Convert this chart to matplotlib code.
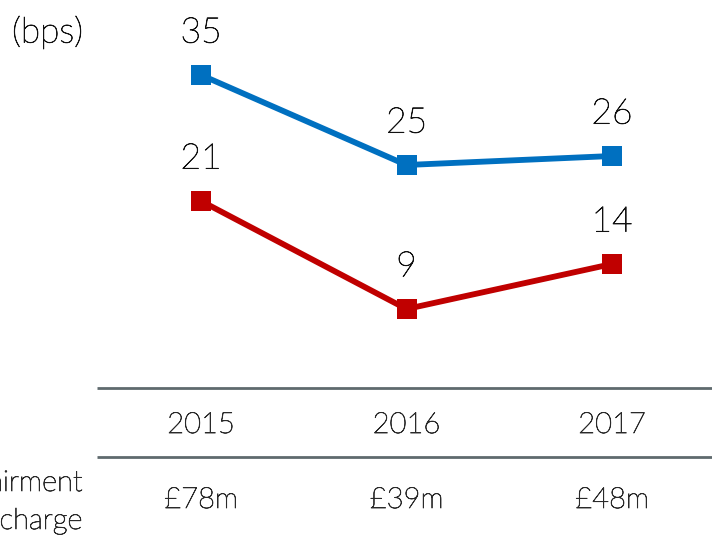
import matplotlib
matplotlib.use("Agg")
import matplotlib.pyplot as plt
import matplotlib.patheffects as pe

years = ["2015", "2016", "2017"]
blue_vals = [35, 25, 26]
red_vals = [21, 9, 14]
charges = ["£78m", "£39m", "£48m"]
unit_label = "(bps)"
row_label = ["Impairment", "charge"]

BLUE = "#0070c0"
RED = "#c00000"
GREY = "#5f6a6e"
TXT = "#111111"
TXT2 = "#2a2a2a"

plt.rcParams['font.family'] = ['Lato', 'DejaVu Sans']

W, H = 712, 541
fig = plt.figure(figsize=(W / 100, H / 100), dpi=100)
ax = fig.add_axes([0, 0, 1, 1])
ax.set_axis_off()

# pixel mapping: x index i -> 201 + 205.5*i ; value v -> 390 - 9*v (from top)
sx, x0 = 205.5, 201
sy, y0 = 9.0, 390
ax.set_xlim(-x0 / sx, (W - x0) / sx)
ax.set_ylim((y0 - H) / sy, y0 / sy)

xs = list(range(len(years)))

def py(p):  # pixel-from-top to data y
    return (y0 - p) / sy

def px(p):
    return (p - x0) / sx

FW = 'light'
def fx(c):
    return [pe.withStroke(linewidth=0.55, foreground=c)]

for vals, col in ((blue_vals, BLUE), (red_vals, RED)):
    ax.plot(xs, vals, color=col, lw=4.2, marker='s', ms=15, mew=0, mfc=col, solid_joinstyle='miter')
    for x, v in zip(xs, vals):
        ax.annotate(str(v), (x, v), xytext=(0, 30.5), textcoords='offset points',
                    ha='center', va='center', fontsize=25.5, color=TXT, fontweight=FW,
                    path_effects=fx(TXT))

ax.text(px(12), py(32), unit_label, ha='left', va='center', fontsize=25.5, color=TXT, fontweight=FW,
        path_effects=fx(TXT))

for yp in (388, 457):
    ax.plot([px(97), px(712)], [py(yp), py(yp)], color=GREY, lw=2.0, solid_capstyle='butt')

for x, yr, ch in zip(xs, years, charges):
    ax.text(x, py(425), yr, ha='center', va='center', fontsize=21, color=TXT2, fontweight=FW,
            path_effects=fx(TXT2))
    ax.text(x, py(500), ch, ha='center', va='center', fontsize=21, color=TXT2, fontweight=FW,
            path_effects=fx(TXT2))

ax.text(px(82), py(483), row_label[0], ha='right', va='center', fontsize=21, color=TXT2, fontweight=FW,
        path_effects=fx(TXT2))
ax.text(px(82), py(521), row_label[1], ha='right', va='center', fontsize=21, color=TXT2, fontweight=FW,
        path_effects=fx(TXT2))

fig.savefig("out.png", dpi=100)
